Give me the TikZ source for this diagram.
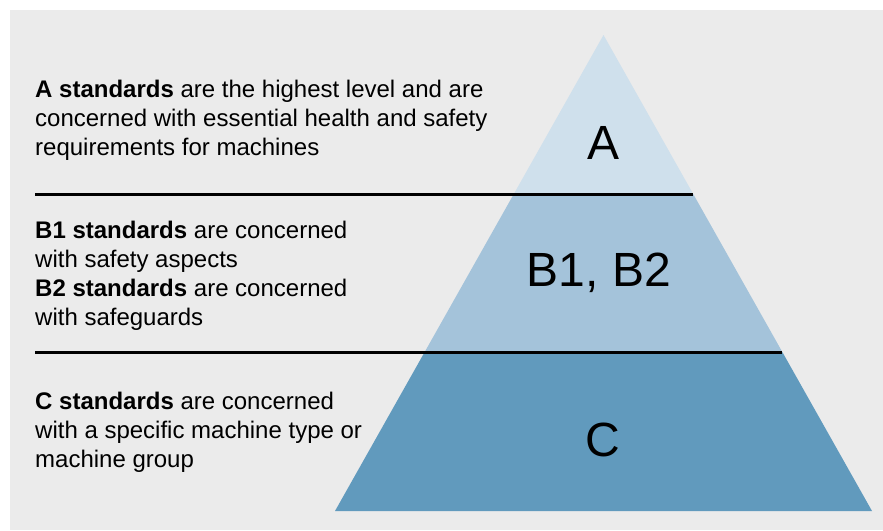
\documentclass[tikz,border=0pt]{standalone}
\usepackage{fontspec}
\setmainfont{Liberation Sans}
\usetikzlibrary{calc}
\definecolor{bgc}{RGB}{235,235,235}
\definecolor{lvA}{RGB}{207,224,236}
\definecolor{lvB}{RGB}{164,195,218}
\definecolor{lvC}{RGB}{97,154,189}
\begin{document}
\begin{tikzpicture}[x=1pt,y=-1pt,
  desc/.style={anchor=base west,inner sep=0pt,align=left,
    font=\fontsize{24}{29}\selectfont},
  lvlabel/.style={inner sep=0pt,font=\fontsize{48}{56}\selectfont},
  divider/.style={line width=3pt,black}]
\useasboundingbox (0,0) rectangle (883,530);
\fill[bgc] (10,10) rectangle (883,530);
% pyramid corners
\coordinate (apex) at (603.5,35);
\coordinate (bl) at (335,511);
\coordinate (br) at (872,511);
\coordinate (l1) at ($(apex)!0.334!(bl)$);
\coordinate (r1) at ($(apex)!0.334!(br)$);
\coordinate (l2) at ($(apex)!0.666!(bl)$);
\coordinate (r2) at ($(apex)!0.666!(br)$);
\fill[lvA] (apex) -- (r1) -- (l1) -- cycle;
\fill[lvB] (l1) -- (r1) -- (r2) -- (l2) -- cycle;
\fill[lvC] (l2) -- (r2) -- (br) -- (bl) -- cycle;
\coordinate (d1s) at (35,194);
\coordinate (d2s) at (35,352);
\draw[divider] (d1s) -- (d1s -| r1);
\draw[divider] (d2s) -- (d2s -| r2);
\node[lvlabel] (labA) at (603,143) {A};
\node[lvlabel] (labB) at (599,273) {B1, B2};
\node[lvlabel] (labC) at (603,440) {C};
\node[desc] (txtA) at (35,155) {\textbf{A standards} are the highest level and are\\concerned with essential health and safety\\requirements for machines};
\node[desc] (txtB) at (35,325) {\textbf{B1 standards} are concerned\\with safety aspects\\\textbf{B2 standards} are concerned\\with safeguards};
\node[desc] (txtC) at (35,467) {\textbf{C standards} are concerned\\with a specific machine type or\\machine group};
\end{tikzpicture}
\end{document}
